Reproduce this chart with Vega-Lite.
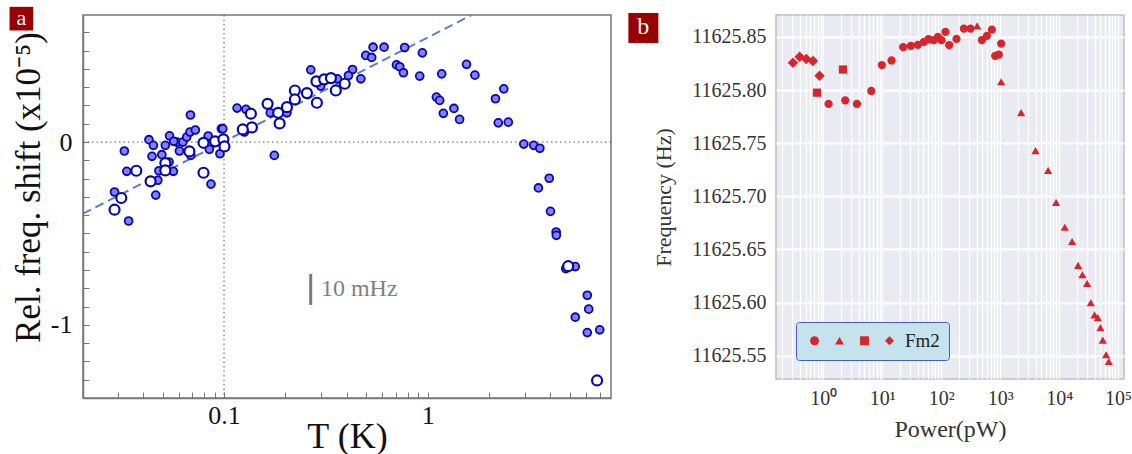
{
  "$schema": "https://vega.github.io/schema/vega-lite/v6.json",
  "background": "white",
  "padding": {"left": 8, "top": 5, "right": 0, "bottom": 0},
  "spacing": 14,
  "config": {"font": "Liberation Serif"},
  "datasets": {
    "shift": [
      {"T": 0.0684, "shift": 0.148, "kind": "filled"},
      {"T": 0.0428, "shift": 0.013, "kind": "filled"},
      {"T": 0.0450, "shift": -0.018, "kind": "filled"},
      {"T": 0.0540, "shift": 0.034, "kind": "filled"},
      {"T": 0.0515, "shift": -0.018, "kind": "filled"},
      {"T": 0.0443, "shift": -0.078, "kind": "filled"},
      {"T": 0.0495, "shift": -0.069, "kind": "filled"},
      {"T": 0.0324, "shift": -0.049, "kind": "filled"},
      {"T": 0.0333, "shift": -0.160, "kind": "filled"},
      {"T": 0.0290, "shift": -0.273, "kind": "filled"},
      {"T": 0.0340, "shift": -0.432, "kind": "filled"},
      {"T": 0.0462, "shift": -0.290, "kind": "filled"},
      {"T": 0.0473, "shift": -0.209, "kind": "filled"},
      {"T": 0.0479, "shift": -0.157, "kind": "filled"},
      {"T": 0.0564, "shift": -0.160, "kind": "filled"},
      {"T": 0.0537, "shift": -0.109, "kind": "filled"},
      {"T": 0.0586, "shift": 0.000, "kind": "filled"},
      {"T": 0.0604, "shift": -0.049, "kind": "filled"},
      {"T": 0.0628, "shift": 0.000, "kind": "filled"},
      {"T": 0.0656, "shift": 0.027, "kind": "filled"},
      {"T": 0.0681, "shift": 0.055, "kind": "filled"},
      {"T": 0.0723, "shift": 0.066, "kind": "filled"},
      {"T": 0.0687, "shift": -0.073, "kind": "filled"},
      {"T": 0.0863, "shift": -0.230, "kind": "filled"},
      {"T": 0.0847, "shift": -0.040, "kind": "filled"},
      {"T": 0.0836, "shift": 0.033, "kind": "filled"},
      {"T": 0.0971, "shift": 0.073, "kind": "filled"},
      {"T": 0.0955, "shift": -0.064, "kind": "filled"},
      {"T": 0.0566, "shift": 0.004, "kind": "filled"},
      {"T": 0.2667, "shift": 0.395, "kind": "filled"},
      {"T": 0.4276, "shift": 0.397, "kind": "filled"},
      {"T": 0.4699, "shift": 0.346, "kind": "filled"},
      {"T": 0.1159, "shift": 0.186, "kind": "filled"},
      {"T": 0.1282, "shift": 0.179, "kind": "filled"},
      {"T": 0.1766, "shift": -0.073, "kind": "filled"},
      {"T": 0.1687, "shift": 0.160, "kind": "filled"},
      {"T": 0.2037, "shift": 0.160, "kind": "filled"},
      {"T": 0.2985, "shift": 0.306, "kind": "filled"},
      {"T": 0.3606, "shift": 0.346, "kind": "filled"},
      {"T": 0.4083, "shift": 0.364, "kind": "filled"},
      {"T": 0.0986, "shift": 0.073, "kind": "filled"},
      {"T": 0.1259, "shift": 0.055, "kind": "filled"},
      {"T": 0.4966, "shift": 0.474, "kind": "filled"},
      {"T": 0.5395, "shift": 0.519, "kind": "filled"},
      {"T": 0.5309, "shift": 0.463, "kind": "filled"},
      {"T": 0.6109, "shift": 0.519, "kind": "filled"},
      {"T": 0.7709, "shift": 0.517, "kind": "filled"},
      {"T": 0.9419, "shift": 0.488, "kind": "filled"},
      {"T": 0.7031, "shift": 0.422, "kind": "filled"},
      {"T": 0.7295, "shift": 0.412, "kind": "filled"},
      {"T": 0.7603, "shift": 0.379, "kind": "filled"},
      {"T": 0.9141, "shift": 0.361, "kind": "filled"},
      {"T": 1.172, "shift": 0.373, "kind": "filled"},
      {"T": 1.552, "shift": 0.425, "kind": "filled"},
      {"T": 1.706, "shift": 0.366, "kind": "filled"},
      {"T": 1.104, "shift": 0.246, "kind": "filled"},
      {"T": 1.146, "shift": 0.228, "kind": "filled"},
      {"T": 1.194, "shift": 0.157, "kind": "filled"},
      {"T": 1.346, "shift": 0.184, "kind": "filled"},
      {"T": 1.435, "shift": 0.124, "kind": "filled"},
      {"T": 2.153, "shift": 0.237, "kind": "filled"},
      {"T": 2.366, "shift": 0.291, "kind": "filled"},
      {"T": 2.223, "shift": 0.105, "kind": "filled"},
      {"T": 2.489, "shift": 0.109, "kind": "filled"},
      {"T": 2.965, "shift": -0.011, "kind": "filled"},
      {"T": 3.319, "shift": -0.018, "kind": "filled"},
      {"T": 3.556, "shift": -0.034, "kind": "filled"},
      {"T": 3.954, "shift": -0.198, "kind": "filled"},
      {"T": 3.499, "shift": -0.251, "kind": "filled"},
      {"T": 4.009, "shift": -0.379, "kind": "filled"},
      {"T": 4.276, "shift": -0.492, "kind": "filled"},
      {"T": 4.285, "shift": -0.510, "kind": "filled"},
      {"T": 4.764, "shift": -0.692, "kind": "filled"},
      {"T": 5.309, "shift": -0.681, "kind": "filled"},
      {"T": 6.081, "shift": -0.838, "kind": "filled"},
      {"T": 6.180, "shift": -0.914, "kind": "filled"},
      {"T": 5.309, "shift": -0.958, "kind": "filled"},
      {"T": 6.081, "shift": -1.042, "kind": "filled"},
      {"T": 6.998, "shift": -1.027, "kind": "filled"},
      {"T": 0.0371, "shift": -0.157, "kind": "open"},
      {"T": 0.0313, "shift": -0.306, "kind": "open"},
      {"T": 0.0290, "shift": -0.370, "kind": "open"},
      {"T": 0.0436, "shift": -0.215, "kind": "open"},
      {"T": 0.0515, "shift": -0.115, "kind": "open"},
      {"T": 0.0515, "shift": -0.155, "kind": "open"},
      {"T": 0.0676, "shift": -0.051, "kind": "open"},
      {"T": 0.0793, "shift": -0.004, "kind": "open"},
      {"T": 0.0793, "shift": -0.168, "kind": "open"},
      {"T": 0.0904, "shift": 0.004, "kind": "open"},
      {"T": 0.0993, "shift": 0.015, "kind": "open"},
      {"T": 0.1005, "shift": -0.024, "kind": "open"},
      {"T": 0.1355, "shift": 0.155, "kind": "open"},
      {"T": 0.1371, "shift": 0.080, "kind": "open"},
      {"T": 0.1236, "shift": 0.069, "kind": "open"},
      {"T": 0.1637, "shift": 0.209, "kind": "open"},
      {"T": 0.1845, "shift": 0.160, "kind": "open"},
      {"T": 0.1875, "shift": 0.102, "kind": "open"},
      {"T": 0.2037, "shift": 0.191, "kind": "open"},
      {"T": 0.2228, "shift": 0.282, "kind": "open"},
      {"T": 0.2228, "shift": 0.233, "kind": "open"},
      {"T": 0.2553, "shift": 0.268, "kind": "open"},
      {"T": 0.2858, "shift": 0.215, "kind": "open"},
      {"T": 0.2844, "shift": 0.332, "kind": "open"},
      {"T": 0.3105, "shift": 0.343, "kind": "open"},
      {"T": 0.3350, "shift": 0.350, "kind": "open"},
      {"T": 0.3540, "shift": 0.282, "kind": "open"},
      {"T": 0.3917, "shift": 0.319, "kind": "open"},
      {"T": 4.898, "shift": -0.679, "kind": "open"},
      {"T": 6.792, "shift": -1.304, "kind": "open"}
    ],
    "fit": [
      {"T": 0.0203, "shift": -0.392},
      {"T": 1.64, "shift": 0.694}
    ],
    "power": [
      {"P": 0.306, "freq": 11625.8256, "marker": "diamond"},
      {"P": 0.398, "freq": 11625.8312, "marker": "diamond"},
      {"P": 0.515, "freq": 11625.8291, "marker": "diamond"},
      {"P": 0.668, "freq": 11625.8272, "marker": "diamond"},
      {"P": 0.865, "freq": 11625.8134, "marker": "diamond"},
      {"P": 0.782, "freq": 11625.7975, "marker": "square"},
      {"P": 2.158, "freq": 11625.8193, "marker": "square"},
      {"P": 1.230, "freq": 11625.7869, "marker": "circle"},
      {"P": 2.360, "freq": 11625.7903, "marker": "circle"},
      {"P": 3.724, "freq": 11625.7869, "marker": "circle"},
      {"P": 6.516, "freq": 11625.7991, "marker": "circle"},
      {"P": 9.863, "freq": 11625.8235, "marker": "circle"},
      {"P": 14.39, "freq": 11625.8278, "marker": "circle"},
      {"P": 22.70, "freq": 11625.8403, "marker": "circle"},
      {"P": 30.62, "freq": 11625.8416, "marker": "circle"},
      {"P": 40.27, "freq": 11625.8425, "marker": "circle"},
      {"P": 50.82, "freq": 11625.8453, "marker": "circle"},
      {"P": 60.95, "freq": 11625.8478, "marker": "circle"},
      {"P": 75.16, "freq": 11625.8469, "marker": "circle"},
      {"P": 87.90, "freq": 11625.8500, "marker": "circle"},
      {"P": 101.2, "freq": 11625.8469, "marker": "circle"},
      {"P": 118.3, "freq": 11625.8547, "marker": "circle"},
      {"P": 136.8, "freq": 11625.8422, "marker": "circle"},
      {"P": 182.0, "freq": 11625.8481, "marker": "circle"},
      {"P": 242.7, "freq": 11625.8578, "marker": "circle"},
      {"P": 314.1, "freq": 11625.8578, "marker": "circle"},
      {"P": 489.8, "freq": 11625.8469, "marker": "circle"},
      {"P": 595.7, "freq": 11625.8509, "marker": "circle"},
      {"P": 724.4, "freq": 11625.8568, "marker": "circle"},
      {"P": 822.2, "freq": 11625.8322, "marker": "circle"},
      {"P": 950.6, "freq": 11625.8334, "marker": "circle"},
      {"P": 1040, "freq": 11625.8437, "marker": "circle"},
      {"P": 407.4, "freq": 11625.8603, "marker": "triangle"},
      {"P": 1040, "freq": 11625.8078, "marker": "triangle"},
      {"P": 2270, "freq": 11625.7787, "marker": "triangle"},
      {"P": 3981, "freq": 11625.7430, "marker": "triangle"},
      {"P": 6516, "freq": 11625.7243, "marker": "triangle"},
      {"P": 8892, "freq": 11625.6943, "marker": "triangle"},
      {"P": 12470, "freq": 11625.6708, "marker": "triangle"},
      {"P": 16600, "freq": 11625.6574, "marker": "triangle"},
      {"P": 20990, "freq": 11625.6349, "marker": "triangle"},
      {"P": 24830, "freq": 11625.6261, "marker": "triangle"},
      {"P": 29850, "freq": 11625.6180, "marker": "triangle"},
      {"P": 34440, "freq": 11625.5998, "marker": "triangle"},
      {"P": 39810, "freq": 11625.5883, "marker": "triangle"},
      {"P": 45290, "freq": 11625.5858, "marker": "triangle"},
      {"P": 50120, "freq": 11625.5764, "marker": "triangle"},
      {"P": 54950, "freq": 11625.5646, "marker": "triangle"},
      {"P": 62660, "freq": 11625.5508, "marker": "triangle"},
      {"P": 69500, "freq": 11625.5445, "marker": "triangle"}
    ]
  },
  "hconcat": [
    {
      "width": 528,
      "height": 383,
      "view": {"stroke": "#777777", "strokeWidth": 1.5, "fill": "white"},
      "layer": [
        {
          "data": {"values": [{}]},
          "mark": {"type": "rule", "color": "#555555", "strokeDash": [1.5, 3], "strokeWidth": 1},
          "encoding": {
            "x": {
              "datum": 0.1, "type": "quantitative",
              "scale": {"type": "log", "domain": [0.0203, 7.95], "nice": false},
              "axis": {
                "title": "T (K)",
                "values": [0.03, 0.04, 0.05, 0.06, 0.07, 0.08, 0.09, 0.1, 0.2, 0.3, 0.4, 0.5, 0.6, 0.7, 0.8, 0.9, 1, 2, 3, 4, 5, 6, 7],
                "tickCount": 200,
                "labelExpr": "abs(datum.value - 0.1) < 1e-9 ? '0.1' : abs(datum.value - 1) < 1e-9 ? '1' : ''",
                "labelOverlap": false,
                "labelFlush": false,
                "tickSize": -6,
                "tickColor": "#777777",
                "domainColor": "#777777",
                "domainWidth": 1.5,
                "grid": false,
                "labelFontSize": 26,
                "labelColor": "#111111",
                "labelPadding": 10,
                "titleFontSize": 36,
                "titleFontWeight": "normal",
                "titleColor": "#111111",
                "titlePadding": -9
              }
            }
          }
        },
        {
          "data": {"values": [{}]},
          "mark": {"type": "rule", "color": "#555555", "strokeDash": [1.5, 3], "strokeWidth": 1},
          "encoding": {
            "y": {
              "datum": 0, "type": "quantitative",
              "scale": {"domain": [-1.4, 0.695], "nice": false, "zero": false},
              "axis": {
                "title": "Rel. freq. shift (x10⁻⁵)",
                "values": [-1.3, -1.2, -1.1, -1, -0.9, -0.8, -0.7, -0.6, -0.5, -0.4, -0.3, -0.2, -0.1, 0, 0.1, 0.2, 0.3, 0.4, 0.5, 0.6],
                "tickCount": 200,
                "labelExpr": "abs(datum.value) < 1e-9 ? '0' : abs(datum.value + 1) < 1e-9 ? '-1' : ''",
                "labelOverlap": false,
                "labelFlush": false,
                "tickSize": -6,
                "tickColor": "#777777",
                "domainColor": "#777777",
                "domainWidth": 1.5,
                "grid": false,
                "labelFontSize": 26,
                "labelColor": "#111111",
                "labelPadding": 17,
                "titleFontSize": 35,
                "titleFontWeight": "normal",
                "titleColor": "#111111",
                "titlePadding": 4,
                "titleY": 172
              }
            }
          }
        },
        {
          "data": {"name": "fit"},
          "mark": {"type": "line", "color": "#5b82bd", "strokeDash": [9, 5], "strokeWidth": 2},
          "encoding": {"x": {"field": "T", "type": "quantitative"}, "y": {"field": "shift", "type": "quantitative"}}
        },
        {
          "data": {"name": "shift"},
          "transform": [{"filter": "datum.kind == 'filled'"}],
          "mark": {"type": "point", "shape": "circle", "filled": true, "fill": "#8282f6", "stroke": "#0808a8", "strokeWidth": 1.8, "size": 62, "opacity": 1},
          "encoding": {"x": {"field": "T", "type": "quantitative"}, "y": {"field": "shift", "type": "quantitative"}}
        },
        {
          "data": {"name": "shift"},
          "transform": [{"filter": "datum.kind == 'open'"}],
          "mark": {"type": "point", "shape": "circle", "filled": true, "fill": "white", "stroke": "#0808a8", "strokeWidth": 2.2, "size": 100, "opacity": 1},
          "encoding": {"x": {"field": "T", "type": "quantitative"}, "y": {"field": "shift", "type": "quantitative"}}
        },
        {
          "data": {"values": [{}]},
          "mark": {"type": "rule", "color": "#7a7a7a", "strokeWidth": 3},
          "encoding": {"x": {"datum": 0.2665, "type": "quantitative"}, "y": {"datum": -0.721, "type": "quantitative"}, "y2": {"datum": -0.891}}
        },
        {
          "data": {"values": [{}]},
          "mark": {"type": "text", "text": "10 mHz", "align": "left", "baseline": "middle", "fontSize": 24, "color": "#808080"},
          "encoding": {"x": {"datum": 0.299, "type": "quantitative"}, "y": {"datum": -0.803, "type": "quantitative"}}
        },
        {
          "data": {"values": [{}]},
          "mark": {"type": "point", "shape": "square", "filled": true, "color": "#990000", "opacity": 1, "size": 560, "clip": false},
          "encoding": {"x": {"datum": 0.01011, "type": "quantitative"}, "y": {"datum": 0.675, "type": "quantitative"}}
        },
        {
          "data": {"values": [{}]},
          "mark": {"type": "text", "text": "a", "align": "center", "baseline": "middle", "fontSize": 22, "color": "white", "clip": false, "dy": -1},
          "encoding": {"x": {"datum": 0.01011, "type": "quantitative"}, "y": {"datum": 0.675, "type": "quantitative"}}
        }
      ]
    },
    {
      "width": 348,
      "height": 364,
      "view": {"fill": "#eaeaf2", "stroke": "#bdbdc6", "strokeWidth": 1.5},
      "layer": [
        {
          "data": {"name": "power"},
          "transform": [{"filter": "datum.marker != 'diamond'"}],
          "mark": {"type": "point", "filled": true, "color": "#d7262b", "opacity": 1, "size": 68},
          "encoding": {
            "x": {
              "field": "P", "type": "quantitative",
              "scale": {"type": "log", "domain": [0.158, 126000], "nice": false},
              "axis": {
                "title": "Power(pW)",
                "values": [0.2, 0.3, 0.4, 0.5, 0.6, 0.7, 0.8, 0.9, 1, 2, 3, 4, 5, 6, 7, 8, 9, 10, 20, 30, 40, 50, 60, 70, 80, 90, 100, 200, 300, 400, 500, 600, 700, 800, 900, 1000, 2000, 3000, 4000, 5000, 6000, 7000, 8000, 9000, 10000, 20000, 30000, 40000, 50000, 60000, 70000, 80000, 90000, 100000],
                "tickCount": 200,
                "labelExpr": "datum.value == 1 ? '10⁰' : datum.value == 10 ? '10¹' : datum.value == 100 ? '10²' : datum.value == 1000 ? '10³' : datum.value == 10000 ? '10⁴' : datum.value == 100000 ? '10⁵' : ''",
                "labelOverlap": false,
                "labelFlush": false,
                "ticks": false,
                "domain": false,
                "grid": true,
                "gridColor": "white",
                "gridWidth": 1.3,
                "gridOpacity": 1,
                "labelFontSize": 20,
                "labelColor": "#333333",
                "labelPadding": 9,
                "titleFontSize": 24,
                "titleFontWeight": "normal",
                "titleColor": "#333333",
                "titlePadding": 9
              }
            },
            "y": {
              "field": "freq", "type": "quantitative",
              "scale": {"domain": [11625.528, 11625.8706], "nice": false, "zero": false},
              "axis": {
                "title": "Frequency (Hz)",
                "values": [11625.55, 11625.6, 11625.65, 11625.7, 11625.75, 11625.8, 11625.85],
                "tickCount": 200,
                "format": ".2f",
                "ticks": false,
                "domain": false,
                "grid": true,
                "gridColor": "white",
                "gridWidth": 2,
                "gridOpacity": 1,
                "labelFontSize": 20,
                "labelColor": "#333333",
                "labelPadding": 10,
                "titleFontSize": 22,
                "titleFontWeight": "normal",
                "titleColor": "#333333",
                "titlePadding": 16
              }
            },
            "shape": {
              "field": "marker", "type": "nominal",
              "scale": {"domain": ["circle", "triangle", "square", "diamond"], "range": ["circle", "triangle-up", "square", "diamond"]},
              "legend": {
                "orient": "none",
                "legendX": 713,
                "legendY": 307,
                "direction": "horizontal",
                "title": null,
                "fillColor": "#c5e3ec",
                "strokeColor": "#4a5dbf",
                "cornerRadius": 3,
                "padding": 9,
                "symbolFillColor": "#d7262b",
                "symbolStrokeColor": "#d7262b",
                "symbolStrokeWidth": 0,
                "symbolSize": 80,
                "labelOffset": 6,
                "columnPadding": 0,
                "labelFontSize": 19,
                "labelColor": "#222222",
                "labelExpr": "datum.label == 'diamond' ? 'Fm2' : ''"
              }
            }
          }
        },
        {
          "data": {"name": "power"},
          "transform": [{"filter": "datum.marker == 'diamond'"}],
          "mark": {"type": "point", "filled": true, "color": "#d7262b", "opacity": 1, "size": 110},
          "encoding": {
            "x": {"field": "P", "type": "quantitative"},
            "y": {"field": "freq", "type": "quantitative"},
            "shape": {"field": "marker", "type": "nominal"}
          }
        },
        {
          "data": {"values": [{}]},
          "mark": {"type": "point", "shape": "square", "filled": true, "color": "#990000", "opacity": 1, "size": 900, "clip": false},
          "encoding": {"x": {"datum": 0.00089, "type": "quantitative"}, "y": {"datum": 11625.8584, "type": "quantitative"}}
        },
        {
          "data": {"values": [{}]},
          "mark": {"type": "text", "text": "b", "align": "center", "baseline": "middle", "fontSize": 24, "color": "white", "clip": false, "dy": -1},
          "encoding": {"x": {"datum": 0.00089, "type": "quantitative"}, "y": {"datum": 11625.8584, "type": "quantitative"}}
        }
      ]
    }
  ]
}
